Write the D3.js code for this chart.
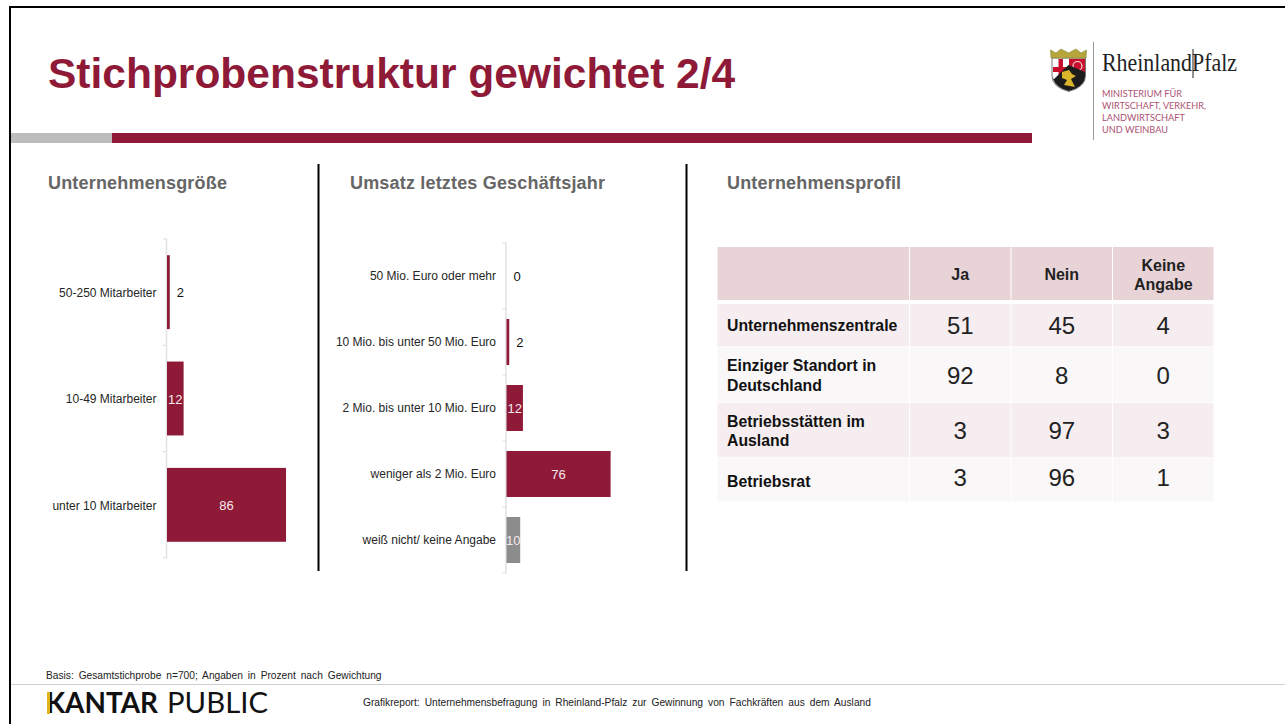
<!DOCTYPE html>
<html><head><meta charset="utf-8">
<script src="https://cdn.jsdelivr.net/npm/d3@7"></script>
<style>html,body{margin:0;padding:0;background:#fff;overflow:hidden}svg{display:block}text{font-family:"Liberation Sans",Arial,sans-serif}</style>
</head><body><svg id="c" width="1285" height="724"></svg>
<script>
const sizeCategories=["50-250 Mitarbeiter","10-49 Mitarbeiter","unter 10 Mitarbeiter"];
const sizeValues=[2,12,86];
const revenueCategories=["50 Mio. Euro oder mehr","10 Mio. bis unter 50 Mio. Euro","2 Mio. bis unter 10 Mio. Euro","weniger als 2 Mio. Euro","weiß nicht/ keine Angabe"];
const revenueValues=[0,2,12,76,10];
const revenueColors=["#8e1a38","#8e1a38","#8e1a38","#8e1a38","#8c8c8c"];
const tableColumns=["Ja","Nein",["Keine","Angabe"]];
const tableRows=[["Unternehmenszentrale"],["Einziger Standort in","Deutschland"],["Betriebsstätten im","Ausland"],["Betriebsrat"]];
const tableJa=[51,92,3,3];
const tableNein=[45,8,97,96];
const tableKeine=[4,0,3,1];

const svg=d3.select("#c");
const RED="#8e1a38";
function txt(x,y,s,o={}){const t=svg.append("text").attr("x",x).attr("y",y).text(s)
 .attr("font-size",o.size||11).attr("font-weight",o.weight||"normal").attr("fill",o.fill||"#222")
 .attr("text-anchor",o.anchor||"start");
 if(o.ls)t.style("letter-spacing",o.ls+"px");
 if(o.ws)t.style("word-spacing",o.ws+"px");
 if(o.family)t.style("font-family",o.family);
 if(o.len)t.attr("textLength",o.len).attr("lengthAdjust","spacingAndGlyphs");
 return t;}
function rect(x,y,w,h,f){return svg.append("rect").attr("x",x).attr("y",y).attr("width",w).attr("height",h).attr("fill",f);}

// frame
rect(9,6,1276,2,"#000");
rect(9,6,2,718,"#000");
rect(11,684,1274,1,"#cfcfcf");
// header
txt(48,87.5,"Stichprobenstruktur gewichtet 2/4",{size:42.5,weight:"bold",fill:RED});
rect(11,133,101,10,"#bdbdbd");
rect(112,133,920,10,RED);
// dividers
[318.5,686.5].forEach(x=>rect(x-1,164,2,407,"#000"));
// panel titles
[[48,"Unternehmensgröße"],[350,"Umsatz letztes Geschäftsjahr"],[727,"Unternehmensprofil"]].forEach(d=>
 txt(d[0],188.5,d[1],{size:18,weight:"bold",fill:"#666",ls:0.18}));

function barChart(cats,vals,colors,x0,yTop,yBot,pxPerUnit,innerPad,labelThreshold,dyLab,dyVal){
 const y=d3.scaleBand().domain(cats).range([yTop,yBot]).paddingInner(innerPad).paddingOuter(innerPad/2);
 const x=d3.scaleLinear().domain([0,100]).range([x0,x0+pxPerUnit*100]);
 const g=svg.append("g");
 const ax=d3.axisLeft(y).tickSize(0).tickPadding(10);
 g.append("line").attr("x1",x0-.5).attr("x2",x0-.5).attr("y1",yTop).attr("y2",yBot).attr("stroke","#e2e2e2").attr("stroke-width",1.5);
 const step=y.step();
 d3.range(cats.length+1).forEach(i=>{
  const yy=yTop+i*step;
  g.append("line").attr("x1",x0-4).attr("x2",x0).attr("y1",yy).attr("y2",yy).attr("stroke","#e2e2e2").attr("stroke-width",1.2);
 });
 const a=g.append("g").attr("transform",`translate(${x0-0.5},${dyLab})`).call(ax);
 a.select(".domain").remove();
 a.selectAll("text").attr("font-size",12).attr("fill","#262626").attr("font-family",'"Liberation Sans",Arial,sans-serif');
 g.selectAll("rect.bar").data(vals).join("rect").attr("class","bar")
  .attr("x",x(0)).attr("y",(d,i)=>y(cats[i])).attr("width",d=>x(d)-x(0)).attr("height",y.bandwidth())
  .attr("fill",(d,i)=>colors[i]);
 g.selectAll("text.val").data(vals).join("text").attr("class","val")
  .attr("x",d=>d<labelThreshold?x(d)+7:x(d/2))
  .attr("y",(d,i)=>y(cats[i])+y.bandwidth()/2+4.5+dyVal)
  .attr("text-anchor",d=>d<labelThreshold?"start":"middle")
  .attr("font-size",13).attr("fill",d=>d<labelThreshold?"#111":"#f5e9ec").text(d=>d);
}
barChart(sizeCategories,sizeValues,[RED,RED,RED],167,239,558,1.384,0.305,5,1,0.5);
barChart(revenueCategories,revenueValues,revenueColors,506.5,243,573,1.37,0.303,5,0,0.5);

// table
const colX=[717.5,910,1011.5,1113,1214.5];
const rowY=[304,347.5,403,458.5,502.5];
const fills=["#f6edf0","#f9f7f8","#f6edf0","#f9f7f8"];
d3.range(4).forEach(c=>rect(colX[c],247,colX[c+1]-colX[c]-1,53,"#e8d4d7"));
tableRows.forEach((r,i)=>d3.range(4).forEach(c=>rect(colX[c],rowY[i],colX[c+1]-colX[c]-1,rowY[i+1]-rowY[i]-1,fills[i])));
const cx=c=>(colX[c+1]+colX[c]-1)/2;
tableColumns.forEach((c,i)=>{
 const lines=Array.isArray(c)?c:[c];
 lines.forEach((l,j)=>txt(cx(i+1),lines.length>1?271+j*19:280,l,{size:16,weight:"bold",fill:"#222",anchor:"middle"}));
});
const rowBaseY=[[331],[371,391],[427,446],[487]];
tableRows.forEach((r,i)=>r.forEach((l,j)=>txt(727,rowBaseY[i][j],l,{size:15.8,weight:"bold",fill:"#111"})));
const numY=[334,384,439,486];
[tableJa,tableNein,tableKeine].forEach((col,c)=>col.forEach((v,i)=>txt(cx(c+1),numY[i],v,{size:24,fill:"#222",anchor:"middle"})));

// logo crest
const lg=svg.append("g");
const shield="M1052 58 L1085.5 58 L1085.5 76 Q1085.5 87 1068.7 91.5 Q1052 87 1052 76 Z";
lg.append("path").attr("d",shield).attr("fill","#fff").attr("stroke","#555").attr("stroke-width",.8);
lg.append("rect").attr("x",1053).attr("y",67).attr("width",15).attr("height",5).attr("fill","#c8102e");
lg.append("rect").attr("x",1058.5).attr("y",59).attr("width",4.5).attr("height",20).attr("fill","#c8102e");
lg.append("path").attr("d","M1069 58.7 H1085 V72 L1075 76 L1069 66 Z").attr("fill","#c8102e");
lg.append("circle").attr("cx",1077.5).attr("cy",66).attr("r",4.5).attr("fill","none").attr("stroke","#f3dede").attr("stroke-width",1.2);
lg.append("path").attr("d","M1053 80 L1068.5 65 L1085 72 L1085 76 Q1085 86.5 1068.7 91 Q1053 86.5 1053 76 Z").attr("fill","#1c1c1c");
lg.append("path").attr("d","M1062 72 L1069 70 L1072 74 L1076 76 L1071 79 L1075 87 L1064 85 L1067 80 L1062 78 Z").attr("fill","#d9b52c");
lg.append("path").attr("d","M1051 58 L1050.5 50 L1056 53 L1061 49 L1068.7 53 L1076 49 L1081 53 L1086.5 50 L1086 58 Z").attr("fill","#b7a53c").attr("stroke","#7d8a3a").attr("stroke-width",.6);
rect(1093,42,1,98,"#9a9a9a");
txt(1102,71,"RheinlandPfalz",{size:25.5,fill:"#222",family:'"Liberation Serif",serif',len:135});
rect(1192.5,49,1,29,"#222");
[["MINISTERIUM FÜR",80],["WIRTSCHAFT, VERKEHR,",104],["LANDWIRTSCHAFT",83],["UND WEINBAU",66]].forEach((l,i)=>
 txt(1102,96.5+i*12,l[0],{size:9.5,fill:"#ab5273",family:'Lato,sans-serif',len:l[1]}));

// footer
txt(46,679,"Basis: Gesamtstichprobe n=700; Angaben in Prozent nach Gewichtung",{size:10.2,fill:"#222",ws:2.1});
txt(363,706,"Grafikreport: Unternehmensbefragung in Rheinland-Pfalz zur Gewinnung von Fachkräften aus dem Ausland",{size:10.2,fill:"#222",ws:2.2});
txt(46,713,"KANTAR",{size:28,weight:"bold",fill:"#111",family:'Lato,sans-serif',len:112});
rect(47,692,3,22,"#e3b21a");
txt(167,713,"PUBLIC",{size:28,fill:"#111",family:'Lato,sans-serif',len:101});
</script></body></html>
